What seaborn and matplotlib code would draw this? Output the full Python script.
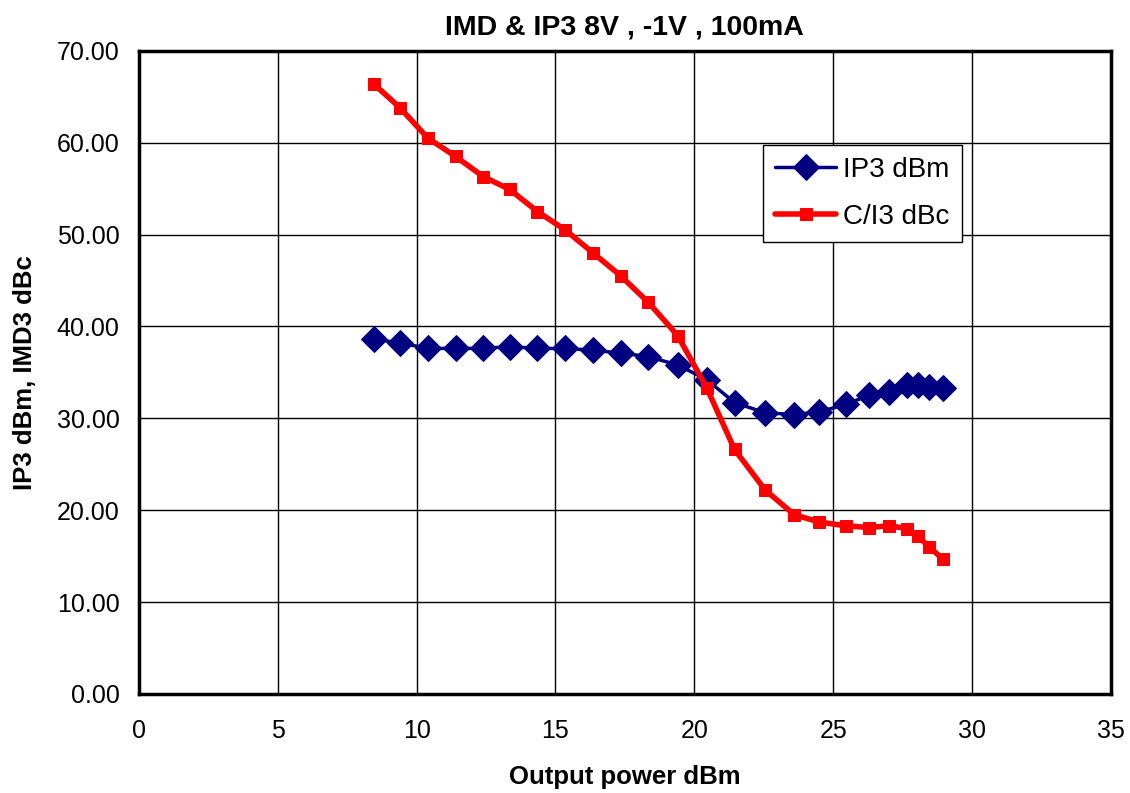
import pandas as pd
import matplotlib
matplotlib.use("Agg")
import matplotlib.pyplot as plt
import seaborn as sns
from matplotlib.ticker import MultipleLocator, FormatStrFormatter

# datos
pout = [8.45, 9.4, 10.4, 11.4, 12.4, 13.35, 14.35, 15.35, 16.35, 17.35, 18.35, 19.4, 20.45,
        21.45, 22.55, 23.6, 24.5, 25.45, 26.3, 27.0, 27.65, 28.05, 28.45, 28.95]
ip3 = [38.6, 38.2, 37.6, 37.6, 37.6, 37.8, 37.6, 37.6, 37.4, 37.1, 36.7, 35.8, 34.2,
       31.7, 30.6, 30.4, 30.7, 31.5, 32.5, 32.9, 33.6, 33.6, 33.4, 33.3]
ci3 = [66.4, 63.8, 60.5, 58.5, 56.3, 54.9, 52.5, 50.5, 48.0, 45.5, 42.6, 39.0, 33.3,
       26.6, 22.2, 19.5, 18.7, 18.3, 18.1, 18.3, 18.0, 17.2, 16.0, 14.7]

df = pd.DataFrame({"pout": pout, "ip3": ip3, "ci3": ci3})

sns.set_style("white")
plt.rcParams["font.family"] = ["Liberation Sans", "DejaVu Sans"]
plt.rcParams["text.color"] = "black"
plt.rcParams["axes.labelcolor"] = "black"

fig = plt.figure(figsize=(11.3, 7.93), dpi=100)
ax = fig.add_axes([0.123, 0.125, 0.860, 0.811])

sns.lineplot(x="pout", y="ip3", data=df, ax=ax, color="#000080", linewidth=2.5,
             marker="D", markersize=13, markeredgecolor="#000080", label="IP3 dBm")
sns.lineplot(x="pout", y="ci3", data=df, ax=ax, color="#FF0000", linewidth=4,
             marker="s", markersize=8, markeredgecolor="#FF0000", label="C/I3 dBc")

ax.set_xlim(0, 35)
ax.set_ylim(0, 70)
ax.xaxis.set_major_locator(MultipleLocator(5))
ax.xaxis.set_minor_locator(MultipleLocator(1))
ax.yaxis.set_major_locator(MultipleLocator(10))
ax.yaxis.set_minor_locator(MultipleLocator(2))
ax.yaxis.set_major_formatter(FormatStrFormatter("%.2f"))
ax.grid(True, which="major", color="black", linewidth=1)
ax.tick_params(which="both", direction="in", labelsize=18, colors="black")
ax.tick_params(which="major", length=0)
ax.tick_params(axis="x", which="major", pad=18)
ax.tick_params(axis="y", which="major", pad=14)
ax.tick_params(which="minor", length=5, width=1)

for s in ax.spines.values():
    s.set_color("black")
    s.set_linewidth(2.5)

ax.set_title("IMD & IP3 8V , -1V , 100mA", fontsize=20.5, fontweight="bold", pad=12)
ax.set_xlabel("Output power dBm", fontsize=18.5, fontweight="bold", labelpad=16)
ax.set_ylabel("IP3 dBm, IMD3 dBc", fontsize=18.5, fontweight="bold", labelpad=14)

leg = ax.legend(loc="upper left", bbox_to_anchor=(0.642, 0.854), fontsize=20,
                frameon=True, fancybox=False, edgecolor="black", framealpha=1,
                handlelength=2.2, borderpad=0.45, labelspacing=0.75, handletextpad=0.25,
                borderaxespad=0)
leg.get_frame().set_linewidth(1)

fig.savefig("out.png", dpi=100)
